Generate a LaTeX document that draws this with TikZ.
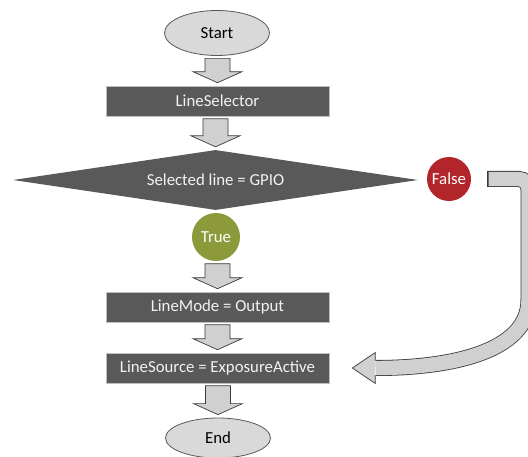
\documentclass[tikz,border=0pt]{standalone}
\usepackage{fontspec}
\setmainfont{Carlito}
\usetikzlibrary{shapes.geometric,calc}
\definecolor{boxfill}{HTML}{595959}
\definecolor{boxline}{HTML}{BFBFBF}
\definecolor{arrfill}{HTML}{D0D0D0}
\definecolor{arrline}{HTML}{3A3A3A}
\definecolor{ellfill}{HTML}{D9D9D9}
\definecolor{ellline}{HTML}{595959}
\definecolor{truegreen}{HTML}{8C9A3C}
\definecolor{falsered}{HTML}{B2252A}
\definecolor{lighttext}{HTML}{F2F2F2}
\tikzset{
  every node/.style={font=\fontsize{16.8}{20}\selectfont, inner sep=0pt},
  termbox/.style={ellipse, draw=ellline, line width=0.8pt, fill=ellfill, minimum width=105pt, text=black},
  procbox/.style={rectangle, draw=boxline, line width=0.6pt, fill=boxfill, minimum width=223pt, minimum height=30pt, text=lighttext},
  decbox/.style={diamond, fill=boxfill, minimum width=405pt, minimum height=60pt, aspect=6.75, text=lighttext},
  tagcirc/.style={circle, text=white},
  blockarr/.style={draw=arrline, line width=0.7pt, fill=arrfill, line join=miter},
}
\newcommand{\blockarrow}[2]{%
  \path let \p1=(#1.south), \p2=(#2.north) in
    [blockarr] (\x2-12.5pt,\y1-2.5pt) -- (\x2+12.5pt,\y1-2.5pt) -- (\x2+12.5pt,\y2+14pt)
    -- (\x2+24.5pt,\y2+14pt) -- (\x2,\y2+3pt) -- (\x2-24.5pt,\y2+14pt)
    -- (\x2-12.5pt,\y2+14pt) -- cycle;}
\begin{document}
\begin{tikzpicture}[x=1pt,y=-1pt]
\useasboundingbox (0,0) rectangle (528,457);
\node[termbox, minimum height=45pt] (start) at (217,33) {Start};
\node[procbox] (sel) at (217.5,101) {LineSelector};
\node[decbox] (dec) at (215.5,180) {Selected line = GPIO};
\node[tagcirc, fill=truegreen, minimum size=48pt] (true) at (216,237) {True};
\node[tagcirc, fill=falsered, minimum size=44pt] (false) at (449,179) {False};
\node[procbox] (mode) at (217.5,307) {LineMode = Output};
\node[procbox] (src) at (217.5,368) {LineSource = ExposureActive};
\node[termbox, minimum height=40pt] (end) at (218,438) {End};
\blockarrow{start}{sel}
\blockarrow{sel}{dec}
\blockarrow{true}{mode}
\blockarrow{mode}{src}
\blockarrow{src}{end}
% curved False arrow
\coordinate (fa) at ([xshift=16pt]false.east);
\coordinate (fb) at ([xshift=46pt]src.east);
\coordinate (tip) at ([xshift=23pt]src.east);
\begin{scope}
\clip (0,0) rectangle (528,457);
\draw[arrline, line width=16pt, rounded corners=10pt] (fa) -- (fa -| 528.5,0) -- (528.5,290) .. controls (528.5,352) and (450,368) .. (fb -| 376,0);
\draw[arrfill, line width=14.4pt, rounded corners=10pt, shorten <=1.3pt] (fa) -- (fa -| 528.5,0) -- (528.5,290) .. controls (528.5,352) and (450,368) .. (fb -| 376,0);
\fill[arrfill] ($(tip)+(23,-15.5)$) -- (tip) -- ($(tip)+(23,15.5)$) -- cycle;
\draw[arrline, line width=0.7pt, line join=miter] ($(tip)+(23,-7.2)$) -- ($(tip)+(23,-15.5)$) -- (tip) -- ($(tip)+(23,15.5)$) -- ($(tip)+(23,7.2)$);
\end{scope}
\end{tikzpicture}
\end{document}
